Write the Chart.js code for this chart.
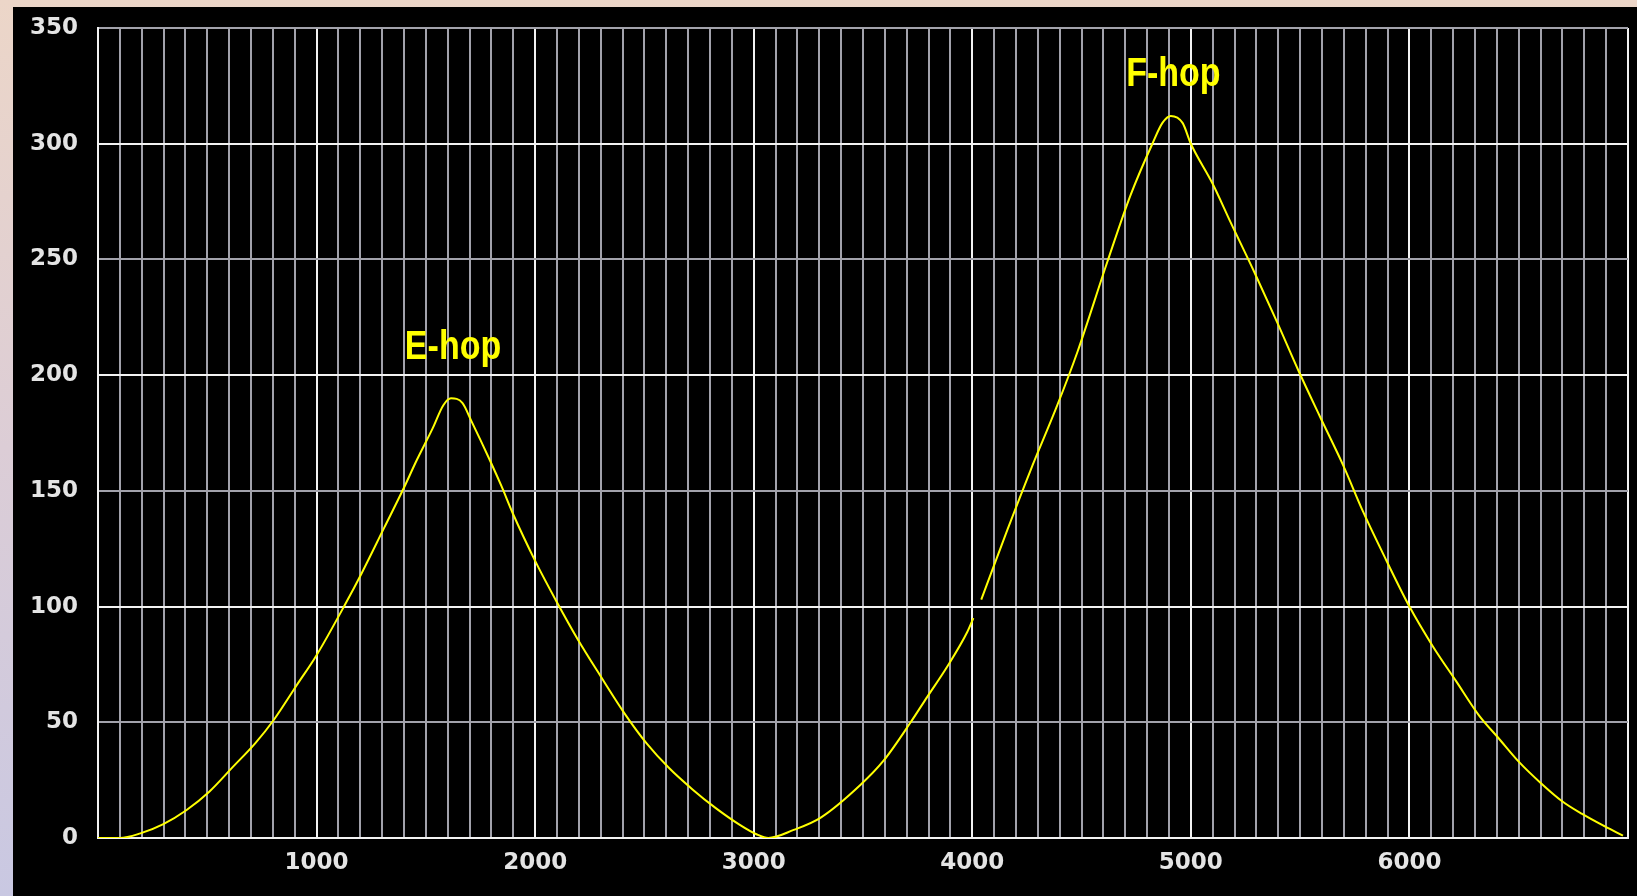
<!DOCTYPE html>
<html>
<head>
<meta charset="utf-8">
<script src="https://cdn.jsdelivr.net/npm/chart.js@4.4.0/dist/chart.umd.min.js"></script>
<style>
    html, body {
        margin: 0;
        padding: 0;
        width: 1637px;
        height: 896px;
        overflow: hidden;
        background: linear-gradient(to bottom, #ecd6c8 0%, #dccdd6 50%, #c9c8e2 100%);
    }
    #khung {
        position: absolute;
        left: 13px;
        top: 7px;
        width: 1624px;
        height: 889px;
        background: #000;
    }
</style>
</head>
<body>
<div id="khung">
    <canvas id="bieudo"></canvas>
</div>
<script>
// Du lieu doc tu hinh: khoang cach (x) va do cao (y)
var khoangCach = [0, 100, 194, 299, 404, 509, 615, 720, 804, 909, 1000, 1131, 1204, 1309, 1398, 1457, 1531, 1580, 1615, 1667, 1709, 1794, 1846, 1899, 2004, 2099, 2194, 2299, 2415, 2509, 2615, 2720, 2825, 2931, 3015, 3067,
    3183, 3305, 3489, 3595, 3718, 3794, 3885, 3977, 4005, 4020,
    4041, 4160, 4267, 4389, 4481, 4618, 4725, 4824, 4870, 4908, 4962, 5000, 5098, 5182, 5288, 5394, 5492, 5591, 5697, 5788, 5894, 6000, 6106, 6212, 6318, 6409, 6500, 6598, 6697, 6788, 6894, 6977];
var doCao = [0, 0, 2, 6, 12, 20, 30.5, 41, 51, 66, 79, 101, 114, 134, 151, 163, 177, 187, 190, 188, 180, 163, 152, 140, 119, 102, 86, 70, 53, 41, 30, 21, 13, 6, 1.5, 0,
    3.5, 8.7, 23, 33.5, 50, 61, 74, 89, 95, null,
    103, 133, 159, 187, 210, 249, 278, 300, 309, 312, 309, 300, 283, 266, 245, 223, 202, 182, 161, 141, 120, 100, 83, 68, 53, 43, 33, 24, 16, 10.5, 5, 1];

// Nhan tren truc
var nhanX = [1000, 2000, 3000, 4000, 5000, 6000];
var nhanY = [0, 50, 100, 150, 200, 250, 300, 350];

// Chu thich cac dinh
var tenDinh = ['E-hop', 'F-hop'];
var dinhX = [1404, 4704];
var dinhY = [207, 325];

var diem = [];
khoangCach.forEach((x, i) => {
    diem.push({ x: x, y: doCao[i] });
});

var mauTrang = '#f2f2f2';
var mauXam = '#a2a2ab';

Chart.defaults.font.family = '"DejaVu Sans"';

var veChuThich = {
    id: 'veChuThich',
    afterDatasetsDraw(chart) {
        const ctx = chart.ctx;
        const sx = chart.scales.x;
        const sy = chart.scales.y;
        ctx.save();
        ctx.fillStyle = '#ffff00';
        ctx.font = 'bold 41px "Liberation Sans"';
        ctx.textAlign = 'left';
        ctx.textBaseline = 'alphabetic';
        tenDinh.forEach((t, i) => {
            ctx.save();
            ctx.translate(sx.getPixelForValue(dinhX[i]), sy.getPixelForValue(dinhY[i]));
            ctx.scale(0.83, 1);
            ctx.fillText(t, 0, 0);
            ctx.restore();
        });
        ctx.restore();
    }
};

const bieudo = document.getElementById('bieudo');

new Chart(bieudo, {
    type: 'line',
    data: {
        datasets: [{
            data: diem,
            borderColor: '#ffff00',
            borderWidth: 2,
            pointRadius: 0,
            cubicInterpolationMode: 'monotone',
            spanGaps: false
        }]
    },
    options: {
        responsive: true,
        maintainAspectRatio: false,
        animation: false,
        layout: {
            padding: { left: 0, top: 21, right: 9, bottom: 0 }
        },
        plugins: {
            legend: { display: false },
            tooltip: { enabled: false }
        },
        scales: {
            x: {
                type: 'linear',
                min: 0,
                max: 7000,
                afterFit: function (s) {
                    s.height = 58;
                    s.paddingLeft = 0;
                    s.paddingRight = 0;
                },
                border: { display: true, color: mauTrang, width: 2 },
                grid: {
                    drawTicks: false,
                    lineWidth: 2,
                    color: c => (c.tick && c.tick.value % 1000 === 0) ? mauTrang : mauXam
                },
                ticks: {
                    stepSize: 100,
                    autoSkip: false,
                    maxRotation: 0,
                    minRotation: 0,
                    padding: 11,
                    color: '#e4e4e4',
                    font: { size: 23, weight: 'bold' },
                    callback: v => nhanX.includes(v) ? String(v) : ''
                }
            },
            y: {
                min: 0,
                max: 350,
                afterFit: function (s) {
                    s.width = 85;
                    s.paddingTop = 0;
                    s.paddingBottom = 0;
                },
                border: { display: true, color: mauTrang, width: 2 },
                grid: {
                    drawTicks: false,
                    lineWidth: 2,
                    color: c => (c.tick && c.tick.value % 100 === 0) ? mauTrang : mauXam
                },
                ticks: {
                    stepSize: 50,
                    padding: 20,
                    color: '#e4e4e4',
                    font: { size: 23, weight: 'bold' },
                    callback: v => nhanY.includes(v) ? String(v) : ''
                }
            }
        }
    },
    plugins: [veChuThich]
});
</script>
</body>
</html>
